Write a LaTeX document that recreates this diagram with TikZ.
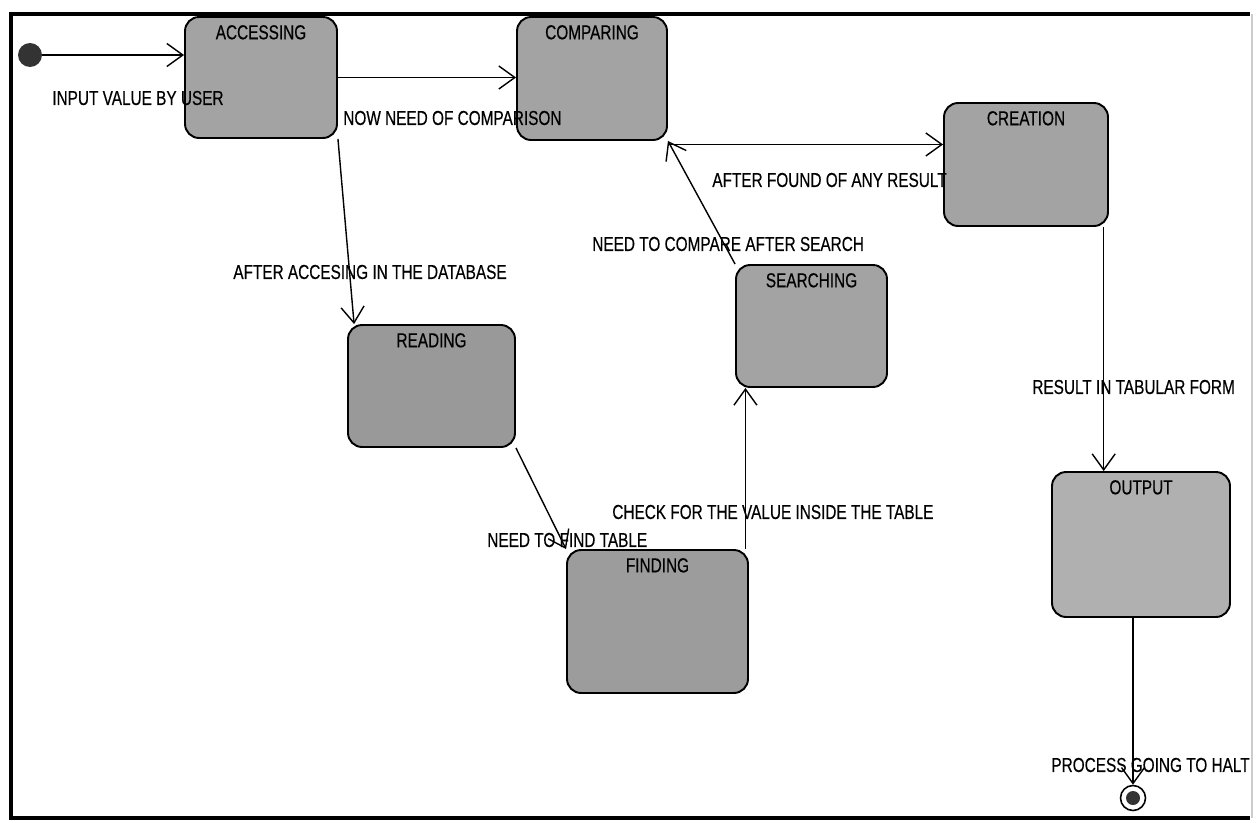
\documentclass[tikz,border=0pt]{standalone}
\usepackage{fontspec}
\setmainfont{Liberation Sans}[FakeStretch=0.76,FakeBold=0.4]
\usepackage{tikz}
\usetikzlibrary{arrows.meta,positioning}

\begin{document}
\begin{tikzpicture}[
      x=0.02cm, y=-0.02cm,
      statebox/.style={
        rectangle,
        draw=black, line width=1.1pt,
        rounded corners=8pt,
        fill=gray!72,
        inner sep=0pt
      },
      arrow/.style={
        -{Straight Barb[length=3.2mm,width=4.6mm]},
        line width=0.8pt
      },
      lbl/.style={
        font=\fontsize{11.5}{13}\selectfont,
        inner sep=0pt,
        anchor=west
      },
      title/.style={
        font=\fontsize{11.5}{13}\selectfont,
        anchor=north, yshift=-5pt, inner sep=0pt
      }
    ]
      \useasboundingbox (0,0) rectangle (1257,822);
      % frame
      \draw[line width=2.4pt] (1250,14) -- (11,14) -- (11,818) -- (1250,818);
      \draw[gray!40, line width=1pt] (1252,14) -- (1252,818);

      % states
      \node[circle, fill=black!80, minimum size=0.48cm, inner sep=0pt] (start) at (30,55) {};
      \node[statebox, minimum width=3.04cm, minimum height=2.42cm,
            label={[title]north:ACCESSING}] (accessing) at (261,77.5) {};
      \node[statebox, minimum width=3.0cm, minimum height=2.46cm,
            label={[title]north:COMPARING}] (comparing) at (592,78.5) {};
      \node[statebox, minimum width=3.28cm, minimum height=2.46cm,
            label={[title]north:CREATION}] (creation) at (1026,164.5) {};
      \node[statebox, minimum width=3.34cm, minimum height=2.44cm, fill=gray!80,
            label={[title]north:READING}] (reading) at (431.5,386) {};
      \node[statebox, minimum width=3.02cm, minimum height=2.44cm,
            label={[title]north:SEARCHING}] (searching) at (811.5,326) {};
      \node[statebox, minimum width=3.62cm, minimum height=2.86cm, fill=gray!78,
            label={[title]north:FINDING}] (finding) at (657.5,621.5) {};
      \node[statebox, minimum width=3.56cm, minimum height=2.9cm, fill=gray!62,
            label={[title]north:OUTPUT}] (output) at (1141,544.5) {};
      \node[circle, draw, line width=0.9pt, minimum size=0.5cm, inner sep=0pt] (halt) at (1133,798) {};
      \node[circle, fill=black!80, minimum size=0.28cm, inner sep=0pt] at (halt) {};

      % transitions
      \draw[arrow] (start) -- (start -| accessing.west);
      \draw[arrow] (accessing.east) -- (accessing.east -| comparing.west);
      \draw[arrow] (accessing.south east) -- ([xshift=4pt]reading.north west);
      \draw[arrow] (reading.south east) -- (finding.north west);
      \draw[arrow] ([xshift=-2pt]finding.north east) -- ([xshift=-2pt]finding.north east |- searching.south);
      \draw[arrow] (searching.north west) -- (comparing.south east);
      \draw[arrow] ([yshift=-2pt]comparing.south east) -- ([yshift=-2pt]comparing.south east -| creation.west);
      \draw[arrow] ([xshift=-3pt]creation.south east) -- ([xshift=-3pt]creation.south east |- output.north);
      \draw[arrow] (halt |- output.south) -- (halt);

      % labels
      \node[lbl] (l1) at (52,98) {INPUT VALUE BY USER};
      \node[lbl] (l2) at (343,118) {NOW NEED OF COMPARISON};
      \node[lbl] (l3) at (233,272) {AFTER ACCESING IN THE DATABASE};
      \node[lbl] (l4) at (592,244) {NEED TO COMPARE AFTER SEARCH};
      \node[lbl] (l5) at (712,180) {AFTER FOUND OF ANY RESULT};
      \node[lbl] (l6) at (487,540) {NEED TO FIND TABLE};
      \node[lbl] (l7) at (612,512) {CHECK FOR THE VALUE INSIDE THE TABLE};
      \node[lbl] (l8) at (1032,387) {RESULT IN TABULAR FORM};
      \node[lbl, anchor=east] (l9) at (1250,765) {PROCESS GOING TO HALT};
    \end{tikzpicture}
\end{document}
